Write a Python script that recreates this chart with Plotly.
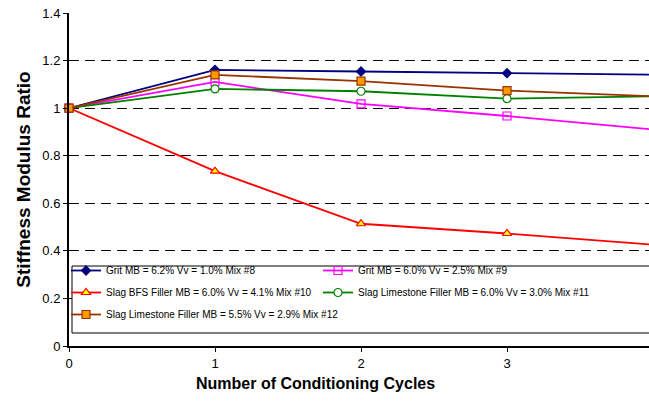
import plotly.graph_objects as go

cycles = [0, 1, 2, 3, 4]
grit_62 = [1.0, 1.161, 1.154, 1.147, 1.141]
grit_60 = [1.0, 1.110, 1.018, 0.967, 0.910]
slag_bfs = [1.0, 0.735, 0.514, 0.473, 0.426]
slag_ls_60 = [1.0, 1.081, 1.071, 1.040, 1.050]
slag_ls_55 = [1.0, 1.140, 1.114, 1.074, 1.050]

names = [
    "Grit MB = 6.2% Vv = 1.0% Mix #8",
    "Grit MB = 6.0% Vv = 2.5% Mix #9",
    "Slag BFS Filler MB = 6.0% Vv = 4.1% Mix #10",
    "Slag Limestone Filler MB = 6.0% Vv = 3.0% Mix #11",
    "Slag Limestone Filler MB = 5.5% Vv = 2.9% Mix #12",
]

y_ticks = [0, 0.2, 0.4, 0.6, 0.8, 1.0, 1.2, 1.4]
y_tick_text = ["0", "0.2", "0.4", "0.6", "0.8", "1", "1.2", "1.4"]
x_ticks = [0, 1, 2, 3, 4]

styles = [
    dict(line="#000080", symbol="diamond", fill="#000080", edge="#000080", size=7, leg="legend"),
    dict(line="#FF00FF", symbol="square-open", fill="#FF00FF", edge="#FF00FF", size=8, leg="legend2"),
    dict(line="#FF0000", symbol="triangle-up", fill="#FFFF00", edge="#FF0000", size=8, leg="legend"),
    dict(line="#008000", symbol="circle", fill="#FFFFFF", edge="#008000", size=8, leg="legend2"),
    dict(line="#993300", symbol="square", fill="#FF9900", edge="#993300", size=8, leg="legend"),
]
series = [grit_62, grit_60, slag_bfs, slag_ls_60, slag_ls_55]

W, H = 649, 401
L, R, T, B = 69, 0, 13, 55
PW, PH = W - L - R, H - T - B

fig = go.Figure()
for i, (name, vals, st) in enumerate(zip(names, series, styles)):
    fig.add_trace(go.Scatter(
        x=cycles, y=vals, name=name, legendgroup="g%d" % i,
        mode="lines+markers", legend=st["leg"],
        line=dict(color=st["line"], width=1.8),
        marker=dict(symbol=st["symbol"], size=st["size"], color=st["fill"],
                    line=dict(color=st["edge"], width=1.2)),
        cliponaxis=False,
    ))

# legend frame
fig.add_shape(
    type="rect", xref="paper", yref="paper", layer="above",
    x0=3 / PW, x1=1.05, y0=(H - B - 333) / PH, y1=(H - B - 266) / PH,
    line=dict(color="black", width=1), fillcolor="white",
)

fig.add_annotation(
    text="<b>Number of Conditioning Cycles</b>", xref="paper", yref="paper",
    x=(315 - L) / PW, y=-(383 - (H - B)) / PH, xanchor="center", yanchor="middle",
    showarrow=False, font=dict(size=16),
)

leg_common = dict(
    xanchor="left", yanchor="top", orientation="v", tracegroupgap=3,
    bgcolor="rgba(0,0,0,0)", borderwidth=0,
    font=dict(size=10, family="Liberation Sans, Arial, sans-serif"),
    itemwidth=30,
)

fig.update_layout(
    width=W, height=H,
    margin=dict(l=L, r=R, t=T, b=B),
    paper_bgcolor="white", plot_bgcolor="white",
    font=dict(family="Liberation Sans, Arial, sans-serif", color="black", size=13),
    showlegend=True,
    legend=dict(x=-3 / PW, y=(H - B - 256) / PH, **leg_common),
    legend2=dict(x=(318 - L) / PW, y=(H - B - 256) / PH, **leg_common),
    xaxis=dict(
        range=[0, PW / 146], tickvals=x_ticks, ticks="outside", ticklen=4,
        tickcolor="black", showline=True, linecolor="black", linewidth=2,
        showgrid=False, zeroline=False, automargin=False,
        tickfont=dict(size=13),
    ),
    yaxis=dict(
        range=[0, 1.4], tickvals=y_ticks, ticktext=y_tick_text, ticks="outside",
        ticklen=4, tickcolor="black", showline=True, linecolor="black", linewidth=2,
        showgrid=True, gridcolor="black", griddash="10px,6px", gridwidth=1,
        zeroline=False, automargin=False,
        title=dict(text="<b>Stiffness Modulus Ratio</b>", font=dict(size=19), standoff=7),
        tickfont=dict(size=13),
    ),
)

fig.write_html(
    "out.html",
    config={"displayModeBar": False},
    post_script="document.body.style.margin='0';document.documentElement.style.overflow='hidden';",
)
